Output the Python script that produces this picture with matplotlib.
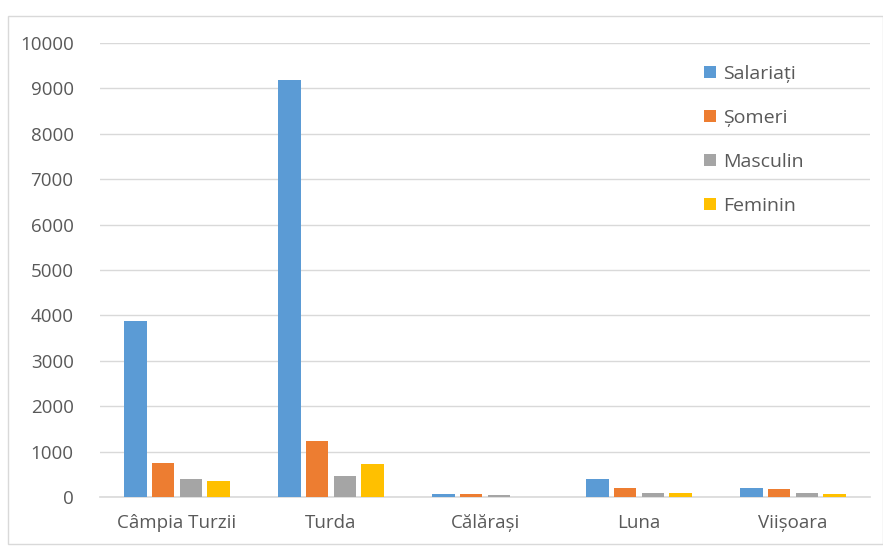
import numpy as np
import matplotlib.pyplot as plt
from matplotlib.patches import Rectangle

# ---------- Dados ----------
CATEGORIES = ["Câmpia Turzii", "Turda", "Călărași", "Luna", "Viișoara"]
SERIES = ["Salariați", "Șomeri", "Masculin", "Feminin"]
SALARIATI = [3870, 9190, 66, 390, 198]
SOMERI = [755, 1235, 66, 198, 176]
MASCULIN = [390, 470, 44, 95, 95]
FEMININ = [360, 727, 0, 95, 66]
COLORS = ["#5B9BD5", "#ED7D31", "#A5A5A5", "#FFC000"]

plt.rcParams['font.family'] = ['Open Sans', 'DejaVu Sans']

fig = plt.figure(figsize=(8.83, 5.46), dpi=100)
ax = fig.add_axes([100 / 883, 49 / 546, 770 / 883, 454 / 546])

x = np.arange(len(CATEGORIES))
slot = 0.18
width = 0.145
values = [SALARIATI, SOMERI, MASCULIN, FEMININ]
for i, (name, vals, col) in enumerate(zip(SERIES, values, COLORS)):
    ax.bar(x + (i - 1.5) * slot, vals, width, color=col, label=name, zorder=3)

ax.set_xlim(-0.5, len(CATEGORIES) - 0.5)
ax.set_ylim(0, 10000)
ax.set_yticks(np.arange(0, 10001, 1000))
ax.set_xticks(x)
ax.set_xticklabels(CATEGORIES)
ax.tick_params(axis='both', length=0, labelsize=13.5, colors='#595959')
ax.tick_params(axis='y', pad=19)
ax.tick_params(axis='x', pad=12)
ax.grid(axis='y', color='#D9D9D9', linewidth=1, zorder=0)
for s in ['top', 'right', 'left']:
    ax.spines[s].set_visible(False)
ax.spines['bottom'].set_color('#D9D9D9')
ax.spines['bottom'].set_linewidth(1.2)

leg = ax.legend(loc='upper left', bbox_to_anchor=(0.762, 0.99), frameon=False,
                fontsize=14, handlelength=0.6, handleheight=0.6,
                handletextpad=0.35, labelspacing=1.33)
for t in leg.get_texts():
    t.set_color('#595959')

# moldura externa
fig.patches.append(Rectangle((8 / 883, 2 / 546), 875 / 883, 528 / 546,
                             transform=fig.transFigure, fill=False,
                             edgecolor='#D9D9D9', linewidth=1))

fig.savefig("out.png", dpi=100)
